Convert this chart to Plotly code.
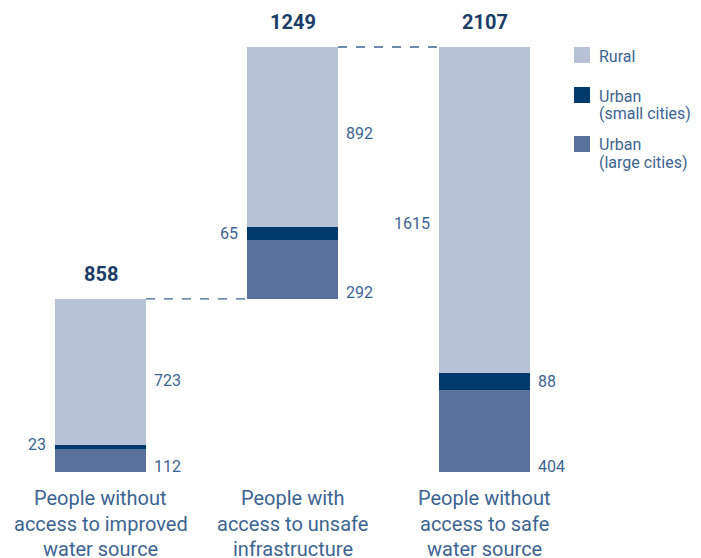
import plotly.graph_objects as go

categories = ["People without<br>access to improved<br>water source",
              "People with<br>access to unsafe<br>infrastructure",
              "People without<br>access to safe<br>water source"]
urban_large = [112, 292, 404]
urban_small = [23, 65, 88]
rural = [723, 892, 1615]
totals = [858, 1249, 2107]
bases = [0, 858, 0]

series_names = ["Rural", "Urban<br>(small cities)", "Urban<br>(large cities)"]
colors = {"rural": "#b8c2d6", "small": "#003a6c", "large": "#5a719b"}
txt = "#3c6491"
dark = "#1c3d66"
font = "Roboto"

# page has an 8px body margin, so the figure is drawn from (8, 8)
W, H = 693, 550
OFF = 8

xs = [0, 1, 2]
bw = 0.474

fig = go.Figure()
seg_bottom = list(bases)
for vals, key in [(urban_large, "large"), (urban_small, "small"), (rural, "rural")]:
    fig.add_trace(go.Bar(x=xs, y=vals, base=list(seg_bottom), width=bw,
                         marker=dict(color=colors[key], line=dict(width=0)),
                         showlegend=False, hoverinfo="skip"))
    seg_bottom = [b + v for b, v in zip(seg_bottom, vals)]


def py(p):
    # reference screenshot pixel y -> paper coordinate
    return 1 - (p - OFF) / H


def px(p):
    return (p - OFF) / W


lab = dict(size=16, color=txt, family=font)
ann = []
shapes = []
rural_side = ["right", "right", "left"]
rural_shift = [-9, 3, -14]
small_side = ["left", "left", "right"]
small_shift = [3, 0, 0]
for i, x in enumerate(xs):
    b = bases[i]
    ann.append(dict(x=x + bw / 2, y=b, text=str(urban_large[i]), xanchor="left",
                    yanchor="middle", xshift=6, yshift=6, showarrow=False, font=lab))
    ys = b + urban_large[i] + urban_small[i] / 2
    if small_side[i] == "right":
        ann.append(dict(x=x + bw / 2, y=ys, text=str(urban_small[i]), xanchor="left",
                        xshift=6, yshift=small_shift[i], showarrow=False, font=lab))
    else:
        ann.append(dict(x=x - bw / 2, y=ys, text=str(urban_small[i]), xanchor="right",
                        xshift=-7, yshift=small_shift[i], showarrow=False, font=lab))
    yr = b + urban_large[i] + urban_small[i] + rural[i] / 2
    if rural_side[i] == "right":
        ann.append(dict(x=x + bw / 2, y=yr, text=str(rural[i]), xanchor="left",
                        xshift=6, yshift=rural_shift[i], showarrow=False, font=lab))
    else:
        ann.append(dict(x=x - bw / 2, y=yr, text=str(rural[i]), xanchor="right",
                        xshift=-7, yshift=rural_shift[i], showarrow=False, font=lab))
    ann.append(dict(x=x, y=b + totals[i], text="<b>%d</b>" % totals[i], yanchor="middle",
                    yshift=25, showarrow=False, font=dict(size=20, color=dark, family=font)))
    for k, line in enumerate(categories[i].split("<br>")):
        ann.append(dict(x=x, y=py(498 + 25.5 * k), yref="paper", text=line, yanchor="middle",
                        showarrow=False, font=dict(size=20, color=txt, family=font)))

for i in range(2):
    top = bases[i] + totals[i]
    shapes.append(dict(type="line", x0=xs[i] + bw / 2, x1=xs[i + 1] - bw / 2, y0=top, y1=top,
                       line=dict(color=txt, width=1.3, dash="dash")))

# legend (manual)
leg_colors = [colors["rural"], colors["small"], colors["large"]]
leg_top = [47, 87, 136]
for name, c, t in zip(series_names, leg_colors, leg_top):
    shapes.append(dict(type="rect", xref="paper", yref="paper",
                       x0=px(574), x1=px(590), y0=py(t + 16), y1=py(t),
                       fillcolor=c, line=dict(width=0)))
    for k, line in enumerate(name.split("<br>")):
        ann.append(dict(xref="paper", yref="paper", x=px(598), y=py(t + 9 + 17 * k),
                        text=line, xanchor="left", yanchor="middle", showarrow=False,
                        borderpad=0, font=dict(size=16, color=txt, family=font)))

# axis ranges from reference pixel anchors: 0 at y=472, 2107 at y=47; bar 1 centre at x=100.5
ppu = (472 - 47) / totals[2]
ymin = -(OFF + H - 472) / ppu
ymax = ymin + H / ppu
xpx = 192.0
xmin = -(100.5 - OFF) / xpx
xmax = xmin + W / xpx

fig.update_layout(
    width=W, height=H,
    margin=dict(l=0, r=0, t=0, b=0),
    plot_bgcolor="white", paper_bgcolor="white",
    barmode="overlay",
    xaxis=dict(range=[xmin, xmax], visible=False, fixedrange=True),
    yaxis=dict(range=[ymin, ymax], visible=False, fixedrange=True),
    annotations=ann, shapes=shapes,
    showlegend=False,
)

fig.write_html("out.html")
